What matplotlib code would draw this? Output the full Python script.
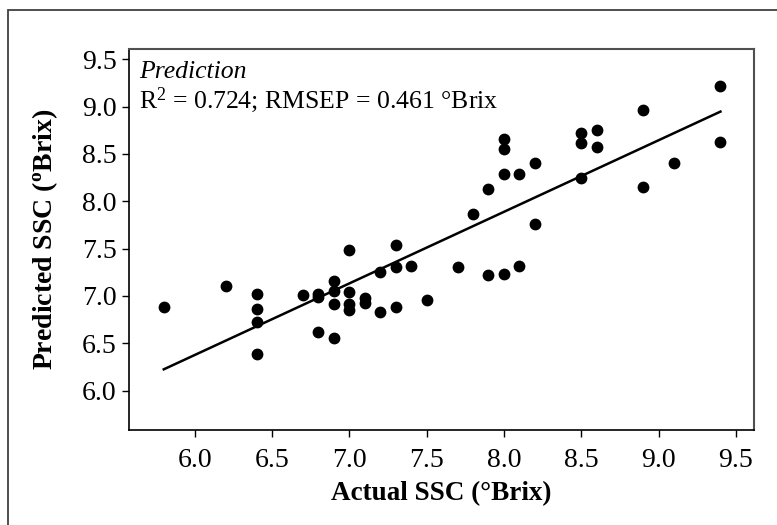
import numpy as np
import matplotlib
matplotlib.use('Agg')
import matplotlib.pyplot as plt
from matplotlib.patches import Rectangle

plt.rcParams['font.family'] = ['Liberation Serif', 'DejaVu Serif']
plt.rcParams['mathtext.fontset'] = 'custom'
plt.rcParams['mathtext.rm'] = 'Liberation Serif'
plt.rcParams['mathtext.it'] = 'Liberation Serif:italic'
plt.rcParams['mathtext.bf'] = 'Liberation Serif:bold'

# actual vs predicted SSC
actual = [5.8, 6.2, 6.4, 6.4, 6.4, 6.4, 6.7, 6.8, 6.8, 6.8,
          6.9, 6.9, 6.9, 6.9, 7.0, 7.0, 7.0, 7.0, 7.1, 7.1,
          7.2, 7.2, 7.3, 7.3, 7.3, 7.4, 7.5, 7.7, 7.8, 7.9,
          7.9, 8.0, 8.0, 8.0, 8.0, 8.1, 8.1, 8.2, 8.2, 8.5,
          8.5, 8.5, 8.6, 8.6, 8.9, 8.9, 9.1, 9.4, 9.4]
predicted = [6.88, 7.11, 7.02, 6.86, 6.72, 6.39, 7.01, 7.02, 6.99, 6.62,
             7.16, 7.05, 6.92, 6.56, 7.49, 7.04, 6.92, 6.85, 6.98, 6.93,
             7.25, 6.83, 7.54, 7.31, 6.88, 7.32, 6.96, 7.31, 7.87, 8.13,
             7.22, 8.66, 8.55, 8.29, 7.23, 8.29, 7.32, 8.40, 7.76, 8.72,
             8.62, 8.25, 8.75, 8.57, 8.96, 8.15, 8.40, 9.22, 8.63]
ticks = [6.0, 6.5, 7.0, 7.5, 8.0, 8.5, 9.0, 9.5]

fig = plt.figure(figsize=(7.77, 5.25), dpi=100)
ax = fig.add_axes([0.166, 0.181, 0.804, 0.726])

# outer frame, cut off at right/bottom like the source image
fig.patches.append(Rectangle((8/777, -0.05), 1.2, 1 - 10/525 + 0.05,
                             transform=fig.transFigure, fill=False,
                             edgecolor='#404040', lw=1.3, zorder=0))

ax.scatter(actual, predicted, s=56, color='black', zorder=3)

# least squares line across the data range
k, b = np.polyfit(actual, predicted, 1)
xl = np.array([min(actual), max(actual)])
ax.plot(xl, k * xl + b, color='black', lw=1.8)

ax.set_xlim(5.575, 9.615)
ax.set_ylim(5.585, 9.61)
ax.set_xticks(ticks)
ax.set_yticks(ticks)
ax.set_xticklabels(['%.1f' % t for t in ticks])
ax.set_yticklabels(['%.1f' % t for t in ticks])
ax.tick_params(direction='out', length=5, width=1, labelsize=20, pad=4)
ax.tick_params(axis='x', pad=8)

for side in ['left', 'bottom']:
    ax.spines[side].set_linewidth(1.2)
for side in ['top', 'right']:
    ax.spines[side].set_color('#505050')
    ax.spines[side].set_linewidth(1.5)

ax.set_xlabel('Actual SSC (°Brix)', fontsize=19.5, fontweight='bold')
ax.set_ylabel(r'Predicted SSC ($^{\mathbf{o}}$Brix)', fontsize=20, fontweight='bold')
ax.xaxis.set_label_coords(0.5, -0.135)
ax.yaxis.set_label_coords(-0.11, 0.5)

ax.text(5.638, 9.305, 'Prediction', fontsize=18.5, style='italic',
        va='baseline', ha='left')
ax.text(5.638, 8.988, r'R$^2$ = 0.724; RMSEP = 0.461 °Brix',
        fontsize=18.5, va='baseline', ha='left')

fig.savefig('out.png', dpi=100)
